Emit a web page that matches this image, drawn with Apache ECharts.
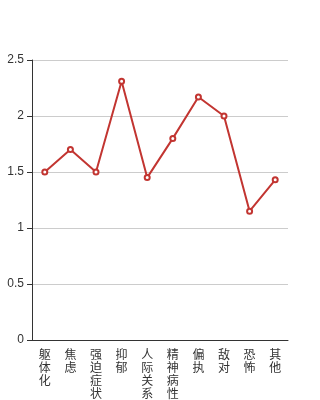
<!DOCTYPE html>
<html><head><meta charset="utf-8">
<script src="https://cdn.jsdelivr.net/npm/echarts@6/dist/echarts.min.js"></script>
<style>html,body{margin:0;padding:0;background:#fff}#c{width:320px;height:400px}</style>
</head><body><div id="c"></div>
<script>
var categories = ['躯体化','焦虑','强迫症状','抑郁','人际关系敏感','精神病性','偏执','敌对','恐怖','其他'];
var values = [1.50, 1.70, 1.50, 2.31, 1.45, 1.80, 2.17, 2.00, 1.15, 1.43];
var yTicks = [0, 0.5, 1, 1.5, 2, 2.5];
var chart = echarts.init(document.getElementById('c'), null, {renderer:'canvas'});
chart.setOption({
  animation:false,
  grid:{left:32, right:32, top:60, bottom:60, containLabel:false, outerBoundsMode:'none'},
  xAxis:{type:'category', data:categories, boundaryGap:true,
    axisLine:{lineStyle:{color:'#333'}}, axisTick:{lineStyle:{color:'#333'}},
    axisLabel:{interval:0, color:'#333', fontSize:12, lineHeight:13, fontFamily:'Noto Sans CJK SC',
      formatter:function(v){return v.split('').join('\n');}}},
  yAxis:{type:'value', min:0, max:2.5, interval:0.5,
    axisLine:{show:true, lineStyle:{color:'#333'}}, axisTick:{show:true, lineStyle:{color:'#333'}},
    axisLabel:{color:'#333', fontSize:12, fontFamily:'Liberation Sans', formatter:function(v){return yTicks.indexOf(v)>=0?String(v):'';}},
    splitLine:{lineStyle:{color:'#ccc'}}},
  series:[{type:'line', data:values, symbol:'emptyCircle', symbolSize:5,
    itemStyle:{color:'#c23531'}, lineStyle:{color:'#c23531', width:2}}]
});
</script></body></html>
